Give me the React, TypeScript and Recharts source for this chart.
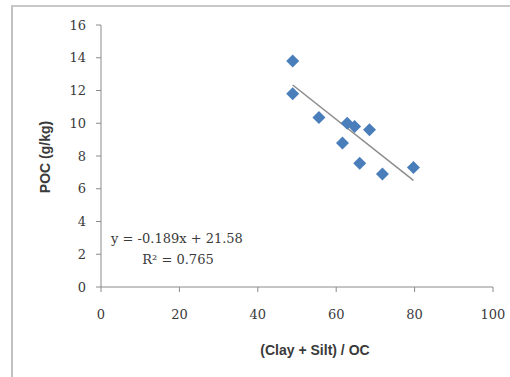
import React from "react";
import {
  ScatterChart,
  Scatter,
  XAxis,
  YAxis,
  ReferenceLine,
  Label,
} from "recharts";

const xValues = [48.9, 48.9, 55.6, 62.8, 64.7, 68.5, 61.6, 66.0, 71.8, 79.7];
const yValues = [13.8, 11.8, 10.35, 10.0, 9.8, 9.6, 8.8, 7.55, 6.9, 7.3];
const xTicks = [0, 20, 40, 60, 80, 100];
const yTicks = [0, 2, 4, 6, 8, 10, 12, 14, 16];
const slope = -0.189;
const intercept = 21.58;
const equationText = "y = -0.189x + 21.58";
const r2Text = "R² = 0.765";
const xTitle = "(Clay + Silt) / OC";
const yTitle = "POC (g/kg)";

const points = xValues.map((x, i) => ({ x, y: yValues[i] }));
const xMin = Math.min(...xValues);
const xMax = Math.max(...xValues);
const trend = [
  { x: xMin, y: slope * xMin + intercept },
  { x: xMax, y: slope * xMax + intercept },
];

const axisColor = "#8a8a8a";
const textColor = "#3a3a3a";
const tickFont = { fontFamily: "DejaVu Serif", fontSize: 13, fill: textColor };

const Diamond = (props: any) => {
  const { cx, cy } = props;
  const r = 6.5;
  return (
    <polygon
      points={`${cx},${cy - r} ${cx + r},${cy} ${cx},${cy + r} ${cx - r},${cy}`}
      fill="#4a7ebb"
    />
  );
};

export default function App() {
  return (
    <div
      style={{
        position: "absolute",
        left: 0,
        top: 0,
        width: 510,
        height: 377,
        background: "#fff",
        overflow: "hidden",
      }}
    >
      <div
        style={{
          position: "absolute",
          left: 11,
          top: 5,
          width: 510,
          height: 380,
          borderLeft: "2px solid #c2c2c2",
          borderTop: "2px solid #c8c8c8",
        }}
      />
      <div style={{ position: "absolute", left: 0, top: 0 }}>
        <ScatterChart
          width={510}
          height={377}
          margin={{ top: 25, right: 17, bottom: 30, left: 41 }}
        >
          <XAxis
            type="number"
            dataKey="x"
            domain={[0, 100]}
            ticks={xTicks}
            height={60}
            stroke={axisColor}
            tickSize={5}
            tickMargin={18}
            tick={tickFont}
            tickLine={{ stroke: axisColor }}
            interval={0}
          >
            <Label
              content={() => (
                <text
                  x={315}
                  y={355}
                  textAnchor="middle"
                  fontFamily="Liberation Sans"
                  fontWeight="bold"
                  fontSize={14}
                  fill={textColor}
                >
                  {xTitle}
                </text>
              )}
            />
          </XAxis>
          <YAxis
            type="number"
            dataKey="y"
            domain={[0, 16]}
            ticks={yTicks}
            width={60}
            stroke={axisColor}
            tickSize={5}
            tickMargin={10}
            tick={tickFont}
            tickLine={{ stroke: axisColor }}
            interval={0}
          >
            <Label
              content={() => (
                <text
                  x={50}
                  y={157}
                  transform="rotate(-90 50 157)"
                  textAnchor="middle"
                  fontFamily="Liberation Sans"
                  fontWeight="bold"
                  fontSize={14}
                  fill={textColor}
                >
                  {yTitle}
                </text>
              )}
            />
          </YAxis>
          <ReferenceLine
            segment={trend}
            stroke="#8c8c8c"
            strokeWidth={1.5}
            ifOverflow="visible"
          />
          <Scatter
            data={points}
            shape={<Diamond />}
            isAnimationActive={false}
          />
        </ScatterChart>
      </div>
      <svg
        width={510}
        height={377}
        style={{ position: "absolute", left: 0, top: 0, pointerEvents: "none" }}
      >
        <text
          x={177}
          y={243}
          textAnchor="middle"
          fontFamily="DejaVu Serif"
          fontSize={13}
          fill={textColor}
        >
          {equationText}
        </text>
        <text
          x={178}
          y={264}
          textAnchor="middle"
          fontFamily="DejaVu Serif"
          fontSize={13}
          fill={textColor}
        >
          {r2Text}
        </text>
      </svg>
    </div>
  );
}
